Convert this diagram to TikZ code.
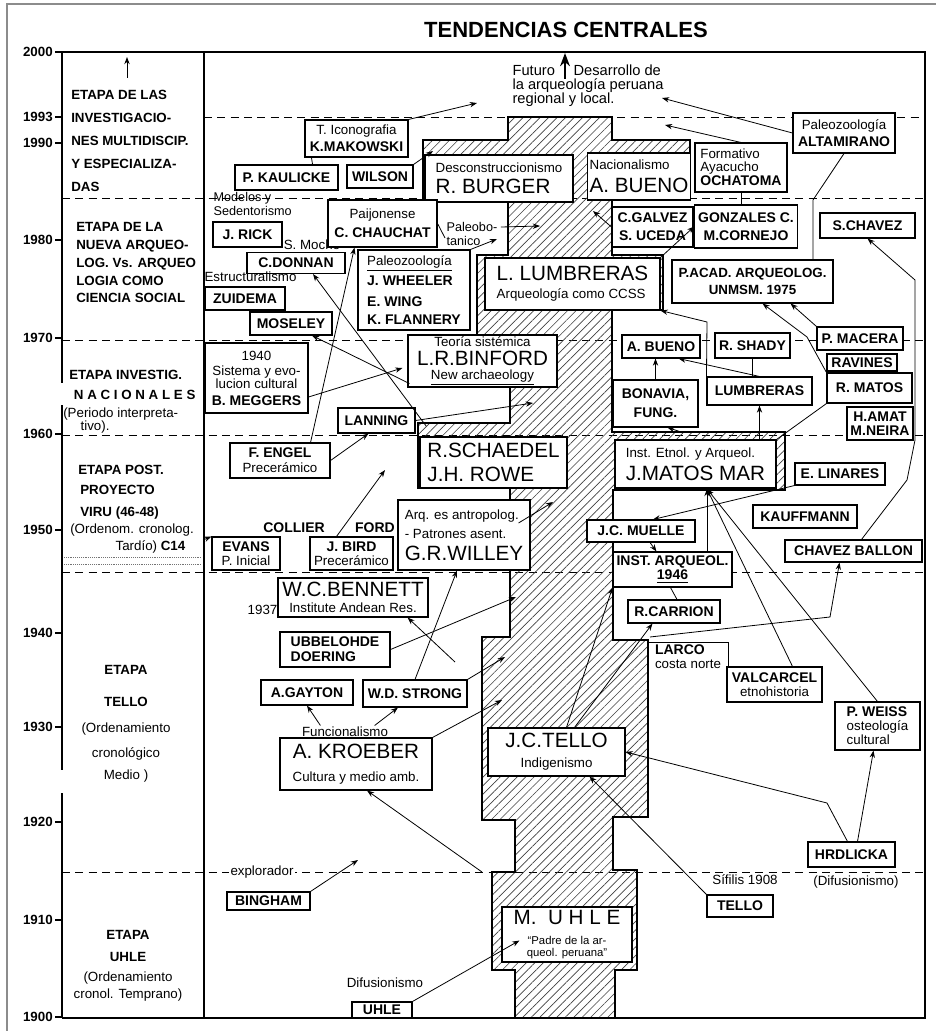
\documentclass[tikz,border=0pt]{standalone}
\usepackage{fontspec}
\setmainfont{Liberation Sans}
\usetikzlibrary{positioning,arrows.meta,calc,patterns.meta}
\newcommand{\namefont}{\bfseries\fontsize{10.5}{12.5}\selectfont}
\newcommand{\descfont}{\mdseries\fontsize{10}{12}\selectfont}
\newcommand{\bigname}{\mdseries\fontsize{15.5}{17}\selectfont}
\newcommand{\tinyfont}{\mdseries\fontsize{8.5}{9}\selectfont}

\begin{document}
\begin{tikzpicture}[x=0.75pt, y=-0.75pt,
  box/.style={draw, fill=white, line width=0.8pt, inner sep=2.5pt, align=center, font=\namefont},
  lbox/.style={box, align=left},
  sz/.style 2 args={minimum width=#1*0.75pt, minimum height=#2*0.75pt},
  lbl/.style={inner sep=1pt, font=\descfont},
  arr/.style={-{Stealth[length=1.9mm,width=1.4mm]}, line width=0.6pt},
  bigarr/.style={-{Stealth[length=3.5mm,width=2.6mm]}, line width=1.6pt},
  lnk/.style={line width=0.6pt},
  era/.style={dash pattern=on 6pt off 4pt, line width=0.7pt},
  trunk/.style={draw, line width=1.1pt, pattern={Lines[angle=45,distance=4.5pt,line width=0.5pt]}, pattern color=black!75},
  yr/.style={anchor=east, inner sep=0pt, font=\bfseries\fontsize{10}{12}\selectfont},
  stagetxt/.style={anchor=north west, inner sep=0pt, align=left}]
\useasboundingbox (0,0) rectangle (936,1031);
\draw[black!45, line width=1.5pt] (7,1031) -- (7,4) -- (936,4);

\node[font=\bfseries\fontsize{16.5}{18}\selectfont] (title) at (566,30) {TENDENCIAS CENTRALES};

% frame, axis and stage boundaries
\draw[line width=1pt] (56,52) -- (925,52) -- (925,1018) -- (62,1018);
\draw[line width=1pt] (62,52) -- (62,383) (62,405) -- (62,770) (62,793) -- (62,1018);
\draw[line width=0.8pt] (204,52) -- (204,1018);
\foreach \yy/\lab in {52/2000,117/1993,143/1990,240/1980,338/1970,434/1960,530/1950,633/1940,727/1930,822/1920,920/1910,1017/1900}
  {\node[yr] (yr\lab) at (53,\yy) {\lab}; \draw[line width=0.8pt] (55,\yy) -- (62,\yy);}
\foreach \yy/\xa in {117/204, 198/62, 340/62, 435/62, 572/62, 872/62}
  \draw[era] (\xa,\yy) -- (925,\yy);
\draw[densely dotted, black!55] (64,557) -- (202,557) (64,564) -- (202,564);

% stages
\node[stagetxt, font=\bfseries\fontsize{10}{17.3}\selectfont] (st1) at (71,90) {ETAPA DE LAS\\INVESTIGACIO-\\NES MULTIDISCIP.\\Y ESPECIALIZA-\\DAS};
\coordinate (up1) at (127,57);
\draw[arr] ($(up1)+(0,21)$) -- (up1);
\node[stagetxt, font=\bfseries\fontsize{10}{13.4}\selectfont] (st2) at (76,222) {ETAPA DE LA\\NUEVA ARQUEO-\\LOG. Vs. ARQUEO\\LOGIA COMO\\CIENCIA SOCIAL};
\node[stagetxt, font=\bfseries\fontsize{10}{13.5}\selectfont] (st3) at (63,370) {\hspace*{4.5pt}ETAPA INVESTIG.\\[1.5pt]\hspace*{8pt}N A C I O N A L E S\\{\mdseries (Periodo interpreta-}\\[-3.5pt]\hspace*{13pt}{\mdseries tivo).}};
\node[stagetxt, font=\bfseries\fontsize{10}{14}\selectfont] (st4) at (70,465) {\hspace*{6pt}ETAPA POST.\\[1pt]\hspace*{7.5pt}PROYECTO\\[2.5pt]\hspace*{7.5pt}VIRU (46-48)\\[-1pt]{\mdseries (Ordenom. cronolog.}\\[-1.5pt]\hspace*{34pt}{\mdseries Tardío)} C14};
\node[stagetxt, anchor=north, align=center, font=\bfseries\fontsize{10}{19}\selectfont] (st5) at (126,665) {ETAPA\\[5pt]TELLO\\[0.5pt]{\mdseries (Ordenamiento}\\{\mdseries cronológico}\\[-2.5pt]{\mdseries Medio )}};
\node[stagetxt, anchor=north, align=center, font=\bfseries\fontsize{10}{15}\selectfont] (st6) at (128,930) {ETAPA\\[1.5pt]UHLE\\{\mdseries (Ordenamiento}\\[-2.5pt]{\mdseries cronol. Temprano)}};

% central trunk
\draw[trunk] (515,1018) -- (515,970) -- (492,970) -- (492,872) -- (515,872) -- (515,820) -- (482,820)
  -- (482,637) -- (510,637) -- (510,488) -- (418,488) -- (418,423) -- (510,423) -- (510,335)
  -- (477,335) -- (477,255) -- (508,255) -- (508,200) -- (423,200) -- (423,140) -- (508,140)
  -- (508,117) -- (612,117) -- (612,140) -- (690,140) -- (690,200) -- (612,200) -- (612,255)
  -- (663,255) -- (663,310) -- (612,310) -- (612,432) -- (785,432) -- (785,490) -- (613,490)
  -- (613,640) -- (648,640) -- (648,817) -- (613,817) -- (613,870) -- (637,870) -- (637,970)
  -- (615,970) -- (615,1018) -- cycle;

\node[lbl, anchor=north west, align=left, font=\fontsize{11}{10.5}\selectfont] (futuro) at (511,63) {Futuro\hspace{14pt}Desarrollo de\\la arqueología peruana\\regional y local.};
\coordinate (fut0) at (565,79);
\coordinate (fut1) at (565,53);
\draw[bigarr] (fut0) -- (fut1);

% 1990s
\node[box, sz={103}{37}] (makowski) at (356.5,138.5) {{\descfont T. Iconografia}\\K.MAKOWSKI};
\node[box, sz={103}{25}] (kaulicke) at (286.5,177.5) {P. KAULICKE};
\node[box, sz={66}{23}] (wilson) at (380,176.5) {WILSON};
\node[lbox, sz={148}{47}, inner sep=1.5pt] (burger) at (499,178.5) {{\descfont Desconstruccionismo}\\[3.5pt]{\bigname R. BURGER}};
\node[lbox, sz={102}{47}, inner sep=1.5pt] (bueno) at (639,176.5) {{\descfont Nacionalismo}\\[4.5pt]{\bigname A. BUENO}};
\node[lbox, sz={92}{49}] (ochatoma) at (741,167.5) {{\descfont Formativo}\\[-3pt]{\descfont Ayacucho}\\[-2pt]OCHATOMA};
\node[box, sz={102}{40}] (altamirano) at (844,133) {{\descfont Paleozoología}\\ALTAMIRANO};

% 1980s
\node[lbl, anchor=north west, align=left, font=\fontsize{9.5}{10}\selectfont] (modelos) at (212,191) {Modelos y\\Sedentorismo};
\node[box, sz={69}{25}] (rick) at (247.5,234.5) {J. RICK};
\node[lbl] (smoche) at (312,245) {S. Moche};
\node[box, sz={98}{21}] (donnan) at (296,263) {C.DONNAN};
\node[lbl, anchor=west] (estruct) at (203,277) {Estructuralismo};
\node[box, sz={80}{23}] (zuidema) at (245,298.5) {ZUIDEMA};
\node[box, sz={82}{23}] (moseley) at (291,323.5) {MOSELEY};
\node[box, sz={109}{47}] (chauchat) at (382.5,223.5) {{\descfont Paijonense}\\[2pt]C. CHAUCHAT};
\node[lbl, anchor=west, align=left, font=\fontsize{9.5}{11}\selectfont] (paleobot) at (445,234) {Paleobo-\\tanico};
\node[lbox, sz={112}{80}] (wheeler) at (414,290) {{\descfont\underline{Paleozoología}}\\[2.5pt]J. WHEELER\\[3pt]E. WING\\[1pt]K. FLANNERY};
\node[lbox, sz={175}{52}] (lumbreras) at (572.5,284) {{\bigname L. LUMBRERAS}\\[1pt]{\descfont Arqueología como CCSS}};
\node[box, sz={81}{40}] (galvez) at (652.5,227) {C.GALVEZ\\[1pt]S. UCEDA};
\node[box, sz={92}{43}] (gonzales) at (746,226.5) {GONZALES C.\\[1pt]M.CORNEJO};
\node[box, sz={95}{25}] (schavez) at (867.5,225.5) {S.CHAVEZ};
\node[box, sz={161}{43}, inner sep=1pt, font=\bfseries\fontsize{10}{12.5}\selectfont] (pacad) at (752.5,281.5) {P.ACAD. ARQUEOLOG.\\UNMSM. 1975};

% 1970s - 1960s
\node[box, sz={103}{70}] (meggers) at (256.5,378) {{\descfont 1940}\\[-1.2pt]{\descfont Sistema y evo-}\\[-2.8pt]{\descfont lucion cultural}\\[0.3pt]B. MEGGERS};
\node[box, sz={149}{52}, inner sep=1pt] (binford) at (482.5,361) {{\descfont Teoría sistémica}\\[1.5pt]{\bigname L.R.BINFORD}\\[-1.5pt]{\descfont\underline{New archaeology}}};
\node[box, sz={77}{25}] (lanning) at (376.5,420.5) {LANNING};
\node[box, sz={100}{35}] (engel) at (280,460.5) {F. ENGEL\\[-1pt]{\descfont Precerámico}};
\node[lbox, sz={147}{51}] (schaedel) at (493.5,462.5) {{\bigname R.SCHAEDEL}\\[6pt]{\bigname J.H. ROWE}};
\node[box, sz={78}{23}] (abueno2) at (661,346.5) {A. BUENO};
\node[box, sz={75}{25}] (shady) at (752.5,345.5) {R. SHADY};
\node[box, sz={85}{47}] (bonavia) at (655.5,403.5) {BONAVIA,\\[2pt]FUNG.};
\node[box, sz={105}{28}] (lumb2) at (759.5,391) {LUMBRERAS};
\node[box, sz={86}{23}] (macera) at (860,338.5) {P. MACERA};
\node[box, sz={70}{17}, inner sep=1pt] (ravines) at (862,362.5) {RAVINES};
\node[box, sz={85}{30}] (rmatos) at (869.5,388) {R. MATOS};
\node[box, sz={66}{33}, inner sep=1pt] (amat) at (880,423.5) {H.AMAT\\[-2pt]M.NEIRA};

% 1950s
\node[lbox, sz={161}{48}, inner sep=1.5pt] (matosmar) at (695.5,464) {{\descfont Inst. Etnol. y Arqueol.}\\[3pt]{\bigname J.MATOS MAR}};
\node[box, sz={90}{22}] (linares) at (840,474) {E. LINARES};
\node[box, sz={104}{23}] (kauffmann) at (805,516.5) {KAUFFMANN};
\node[box, sz={137}{22}] (chavezballon) at (853.5,551) {CHAVEZ BALLON};
\node[box, sz={108}{22}] (muelle) at (641,531) {J.C. MUELLE};
\node[box, sz={119}{35}] (instarq) at (672.5,569.5) {INST. ARQUEOL.\\[-2pt]\underline{1946}};
\node[box, sz={92}{23}] (carrion) at (674,611.5) {R.CARRION};
\node[lbox, sz={132}{70}, inner sep=1.5pt] (willey) at (464,535) {{\descfont Arq. es antropolog.}\\[2pt]{\descfont - Patrones asent.}\\[4pt]{\bigname G.R.WILLEY}};
\node[lbl, font=\namefont] (collier) at (294,528) {COLLIER};
\node[lbl, font=\namefont] (ford) at (375,528) {FORD};
\node[box, sz={83}{33}] (bird) at (351.5,553.5) {J. BIRD\\[-2pt]{\descfont Precerámico}};
\node[box, sz={68}{33}] (evans) at (246,553.5) {EVANS\\[-2pt]{\descfont P. Inicial}};
\coordinate (c14src) at (203,540);

% 1940s - 1920s
\node[box, sz={150}{39}, inner sep=1pt] (bennett) at (353,597.5) {{\bigname W.C.BENNETT}\\[0pt]{\descfont Institute Andean Res.}};
\node[lbl, anchor=east] (yr1937) at (279,610) {1937};
\node[lbox, sz={110}{35}] (ubbelohde) at (335,649.5) {UBBELOHDE\\[-1pt]DOERING};
\node[box, sz={92}{25}] (gayton) at (307,692.5) {A.GAYTON};
\node[box, sz={104}{27}] (strong) at (415,693.5) {W.D. STRONG};
\node[lbl] (funcional) at (345,732) {Funcionalismo};
\node[box, sz={152}{52}, inner sep=1.5pt] (kroeber) at (356,764) {{\bigname A. KROEBER}\\[5pt]{\descfont Cultura y medio amb.}};
\node[lbl, sz={80}{27}, align=left, font=\namefont] (larco) at (688,656.5) {LARCO\\[-2pt]{\descfont costa norte}};
\draw[lnk] (larco.north west) -- (larco.north east) -- (larco.south east);
\node[box, sz={95}{35}] (valcarcel) at (774.5,684.5) {VALCARCEL\\[-2pt]{\descfont etnohistoria}};
\node[lbox, sz={85}{48}] (weiss) at (877.5,726) {P. WEISS\\[-2pt]{\descfont osteología}\\[-2pt]{\descfont cultural}};
\node[box, sz={137}{48}, inner sep=1.5pt] (jctello) at (556.5,752) {{\bigname J.C.TELLO}\\[2.5pt]{\descfont Indigenismo}};

% 1910s
\node[box, sz={87}{25}] (hrdlicka) at (851.5,854.5) {HRDLICKA};
\node[lbl] (difus2) at (856,882) {(Difusionismo)};
\node[lbl] (sifilis) at (745,880) {Sífilis 1908};
\node[box, sz={66}{22}] (tello2) at (740,906) {TELLO};
\node[box, sz={130}{55}, inner sep=1pt] (muhle) at (567,934.5) {{\bigname M.\ \ U H L E}\\[3pt]{\tinyfont ``Padre de la ar-}\\[-3.5pt]{\tinyfont queol. peruana''}};
\node[lbl, fill=white] (explorador) at (262,872) {explorador};
\node[box, sz={83}{18}, inner sep=1pt] (bingham) at (268.5,901) {BINGHAM};
\node[lbl] (difus1) at (385,983) {Difusionismo};
\node[box, sz={60}{16}, inner sep=1pt] (uhle) at (382,1010) {UHLE};

% free ends
\coordinate (c1) at (477,103);
\coordinate (c2) at (433,151);
\coordinate (c3) at (665,125);
\coordinate (c4) at (662,98);
\coordinate (c5) at (813,200);
\coordinate (c6) at (593,211);
\coordinate (c7) at (540,226);
\coordinate (c8) at (497,239);
\coordinate (c9) at (707,322);
\coordinate (c10) at (807,337);
\coordinate (c11) at (907,480);
\coordinate (c12) at (915,440);
\coordinate (c13) at (915,280);
\coordinate (mmb) at (707,489);
\coordinate (tc) at (650,637);
\coordinate (c14) at (830,617);
\coordinate (c15) at (827,803);
\coordinate (t2) at (482,872);
\coordinate (c16) at (358,860);
\coordinate (t3) at (502,700);
\coordinate (t4) at (505,657);
\coordinate (t5) at (516,597);
\coordinate (c17) at (455,662);
\coordinate (t6) at (553,502);
\coordinate (c18) at (385,470);
\coordinate (t7) at (533,403);

% connectors
\draw[arr] (makowski.north east) -- (c1);
\draw[lnk] ($(makowski.south west)+(7,0)$) -- ($(kaulicke.north east)+(-26,0)$);
\draw[arr] (wilson.north east) -- (c2);
\draw[arr] (ochatoma.north) -- (c3);
\draw[arr] (altamirano.west) -- (c4);
\draw[lnk] (altamirano.south) -- (c5) -- (c5 |- pacad.north);
\draw[lnk] (ochatoma.south) -- (ochatoma.south |- gonzales.north);
\draw[arr] (galvez.west) -- (c6);
\draw[arr] (lumbreras.north east) -- (gonzales.west);
\draw[arr] ($(chavezballon.north)+(8,0)$) -- (c11) -- (c12) -- (c13) -- (schavez.south);
\draw[arr] ($(paleobot.east)+(2,-7)$) -- (c7);
\draw[lnk] (chauchat.east) -- ($(paleobot.west)+(0,4)$);
\draw[arr] (wheeler.north east) -- (c8);
\draw[arr] (lumb2.north west) -- (c9) -- (lumbreras.south east);
\draw[arr] (bonavia.north) -- (bonavia.north |- abueno2.south);
\draw[arr] (lumb2.north) -- ($(abueno2.south east)+(-22,0)$);
\draw[lnk] (shady.south) -- (shady.south |- lumb2.north);
\draw[arr] ($(matosmar.north west)+(65,-8)$) -- ($(bonavia.south)+(12,0)$);
\draw[arr] (lumb2.south |- matosmar.north) -- (lumb2.south);
\draw[lnk] (matosmar.north east) -- (rmatos.south west);
\draw[arr] (macera.north west) -- ($(pacad.south east)+(-43,0)$);
\draw[arr] (rmatos.north west) -- (c10) -- ($(pacad.south)+(10,0)$);
\draw[arr] (linares.south west) -- ($(muelle.north)+(12,0)$);
\draw[arr] (instarq.north -| mmb) -- (mmb);
\draw[arr] ($(valcarcel.north)+(18,0)$) -- (mmb);
\draw[arr] (weiss.north) -- (mmb);
\draw[arr] ($(muelle.south)+(9,0)$) -- ($(instarq.north west)+(44,0)$);
\draw[lnk] ($(carrion.north)+(3,0)$) -- ($(instarq.south)+(-2,0)$);
\draw[arr] ($(jctello.north)+(10,0)$) -- (instarq.south west);
\draw[arr] ($(jctello.north)+(18,0)$) -- ($(carrion.south west)+(25,0)$);
\draw[arr] (tc) -- (c14) -- ($(chavezballon.south)+(-14,0)$);
\draw[arr] ($(hrdlicka.north)+(6,0)$) -- ($(weiss.south)+(-4,0)$);
\draw[arr] ($(hrdlicka.north)+(-4,0)$) -- (c15) -- (jctello.east);
\draw[arr] (tello2.north west) -- ($(jctello.south)+(33,0)$);
\draw[arr] (uhle.north east) -- ($(muhle.west)+(18,6)$);
\draw[arr] (t2) -- ($(kroeber.south)+(11,0)$);
\draw[arr] (bingham.north east) -- (c16);
\draw[arr] ($(funcional.north west)+(20,0)$) -- (gayton.south);
\draw[arr] ($(funcional.north east)+(-15,0)$) -- ($(strong.south)+(-17,0)$);
\draw[arr] (kroeber.north east) -- (t3);
\draw[arr] (strong.north) -- ($(willey.south)+(-7,0)$);
\draw[arr] (strong.north east) -- (t4);
\draw[arr] (ubbelohde.east) -- (t5);
\draw[arr] (c17) -- ($(bennett.south east)+(-21,0)$);
\draw[arr] ($(willey.east)+(-12,-12)$) -- (t6);
\draw[arr] ($(bird.north)+(-15,0)$) -- (c18);
\draw[arr] (c14src) -- (evans.north west);
\draw[arr] ($(engel.north east)+(-20,0)$) -- ($(chauchat.south west)+(27,0)$);
\draw[arr] (engel.east) -- ($(lanning.south)+(-8,0)$);
\draw[arr] (lanning.east) -- (t7);
\draw[arr] ($(meggers.east)+(0,19)$) -- ($(binford.west)+(-5,7)$);
\draw[arr] ($(schaedel.north west)+(7,-10)$) -- ($(donnan.south)+(17,0)$);
\draw[arr] ($(binford.south west)+(2,-4)$) -- ($(moseley.south)+(21,0)$);
\end{tikzpicture}
\end{document}
